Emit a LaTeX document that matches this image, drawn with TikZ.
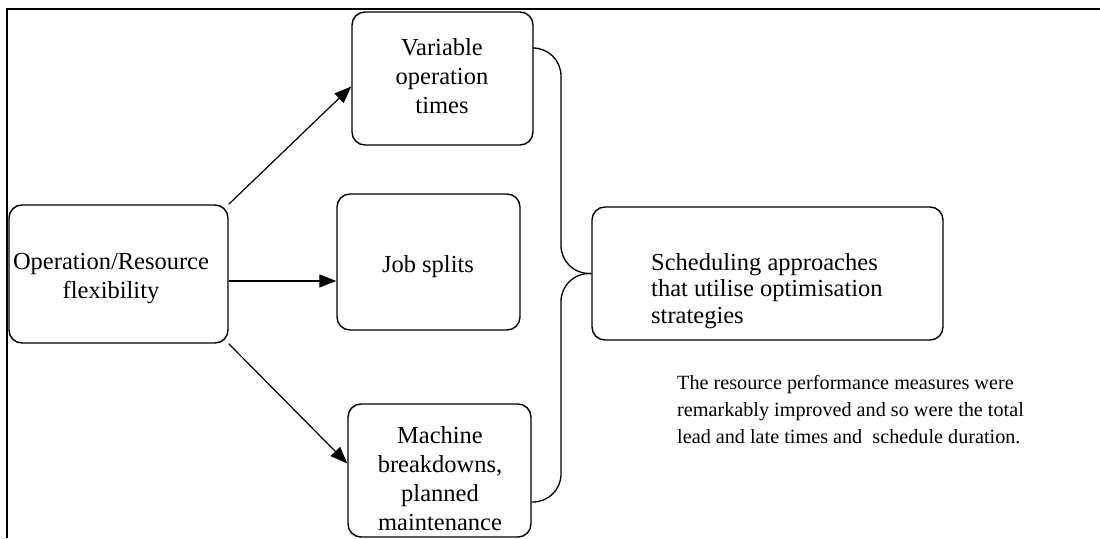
\documentclass[tikz,border=0pt]{standalone}
\usepackage{fontspec}
\setmainfont{Liberation Serif}
\usetikzlibrary{arrows.meta,calc}
\begin{document}
\begin{tikzpicture}[x=1pt,y=-1pt,
  box/.style={draw, line width=1.4pt, rounded corners=13pt, inner sep=0pt},
  boxtext/.style={font=\fontsize{24.5}{29}\selectfont, align=center, inner sep=0pt},
  arr/.style={line width=1.2pt, -{Triangle[length=17pt,width=13pt]}},
  conn/.style={line width=1.3pt, rounded corners=28pt},
  frameline/.style={line width=2pt}]
\useasboundingbox (0,0) rectangle (1100,538);

% outer frame (top and left edges)
\draw[frameline] (7,538) -- (7,9) -- (1100,9);

% boxes
\node[box, minimum width=219pt, minimum height=138pt] (op)    at (118.5,274)   {};
\node[box, minimum width=181pt, minimum height=133pt] (var)   at (442.5,78.5)  {};
\node[box, minimum width=183pt, minimum height=136pt] (job)   at (428.5,262)   {};
\node[box, minimum width=183pt, minimum height=133pt] (mach)  at (439.5,470.5) {};
\node[box, minimum width=351pt, minimum height=133pt] (sched) at (767.5,273.5) {};

% box labels
\node[boxtext] (optext)   at (111,278.3)  {Operation/Resource\\flexibility};
\node[boxtext] (vartext)  at (442,75.7)   {Variable\\operation\\times};
\node[boxtext] (jobtext)  at (428,266.3)  {Job splits};
\node[boxtext] (machtext) at (440,478.2)  {Machine\\breakdowns,\\planned\\maintenance};
\node[boxtext, align=left, anchor=west, font=\fontsize{24.5}{26.5}\selectfont]
  (schedtext) at (651,290.8) {Scheduling approaches\\that utilise optimisation\\strategies};

% result note
\node[align=left, anchor=west, inner sep=0pt, font=\fontsize{20.2}{27}\selectfont]
  (note) at (677,409.4) {The resource performance measures were\\
  remarkably improved and so were the total\\
  lead and late times and\ \ schedule duration.};

% arrows from the flexibility box
\coordinate (harrow) at (0,281);
\draw[arr] (op.north east) -- ($(var.west)+(0,8)$);
\draw[arr] (op.east |- harrow) -- (job.west |- harrow);
\draw[arr] (op.south east) -- ($(mach.west)+(0,-7)$);

% brace joining the three factors to the scheduling box
\coordinate (btop) at (561,48);
\coordinate (bbot) at (561,502);
\draw[conn] (var.east |- btop) -- (btop) -- (btop |- sched.west) -- (sched.west);
\draw[conn] (sched.west) -- (bbot |- sched.west) -- (bbot) -- (mach.east |- bbot);
\end{tikzpicture}
\end{document}
